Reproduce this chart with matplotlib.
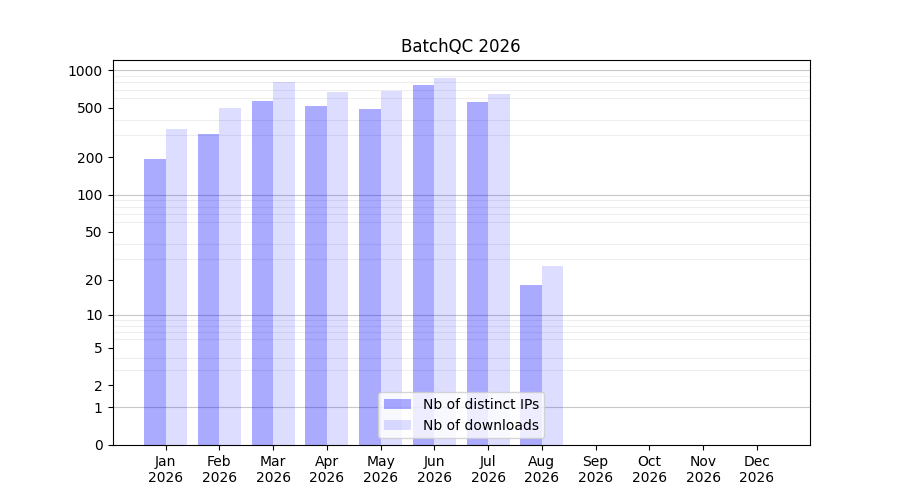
import numpy as np
import matplotlib
matplotlib.use('Agg')
import matplotlib.pyplot as plt
from matplotlib.ticker import FixedLocator, NullFormatter

months = ['Jan', 'Feb', 'Mar', 'Apr', 'May', 'Jun',
          'Jul', 'Aug', 'Sep', 'Oct', 'Nov', 'Dec']
year = '2026'
distinct_ips = [194, 307, 564, 515, 487, 758, 554, 18, 0, 0, 0, 0]
downloads = [337, 499, 801, 666, 678, 862, 642, 26, 0, 0, 0, 0]
ytick_vals = [0, 1, 2, 5, 10, 20, 50, 100, 200, 500, 1000]


def fwd(y):
    return np.log10(1 + np.asarray(y, dtype=float))


def inv(y):
    return 10 ** np.asarray(y, dtype=float) - 1


fig, ax = plt.subplots(figsize=(9, 5), dpi=100)
ax.set_axisbelow(True)
x = np.arange(len(months))
w = 0.4
ax.set_yscale('function', functions=(fwd, inv))
ax.bar(x - w / 2, distinct_ips, w, color='blue', alpha=0.333, label='Nb of distinct IPs', zorder=2)
ax.bar(x + w / 2, downloads, w, color='blue', alpha=0.135, label='Nb of downloads', zorder=2)

# grid: decades darker, in-between multiples lighter
decades = [1, 10, 100, 1000]
minors = [m * d for d in [1, 10, 100] for m in range(2, 10)]
ax.yaxis.set_minor_locator(FixedLocator(minors))
ax.yaxis.set_minor_formatter(NullFormatter())
ax.tick_params(axis='y', which='minor', length=0)
ax.grid(True, axis='y', which='minor', color='#eeeeee', linewidth=0.8, zorder=0.5)
for d in decades:
    ax.axhline(d, color='#c8c8c8', linewidth=0.8, zorder=0.6)

ax.set_yticks(ytick_vals)
ax.set_yticklabels([str(v) for v in ytick_vals])
ax.set_xticks(x)
ax.set_xticklabels([m + '\n' + year for m in months])
ax.set_title('BatchQC ' + year)
ax.legend(loc='lower center')

fig.savefig('out.png')
